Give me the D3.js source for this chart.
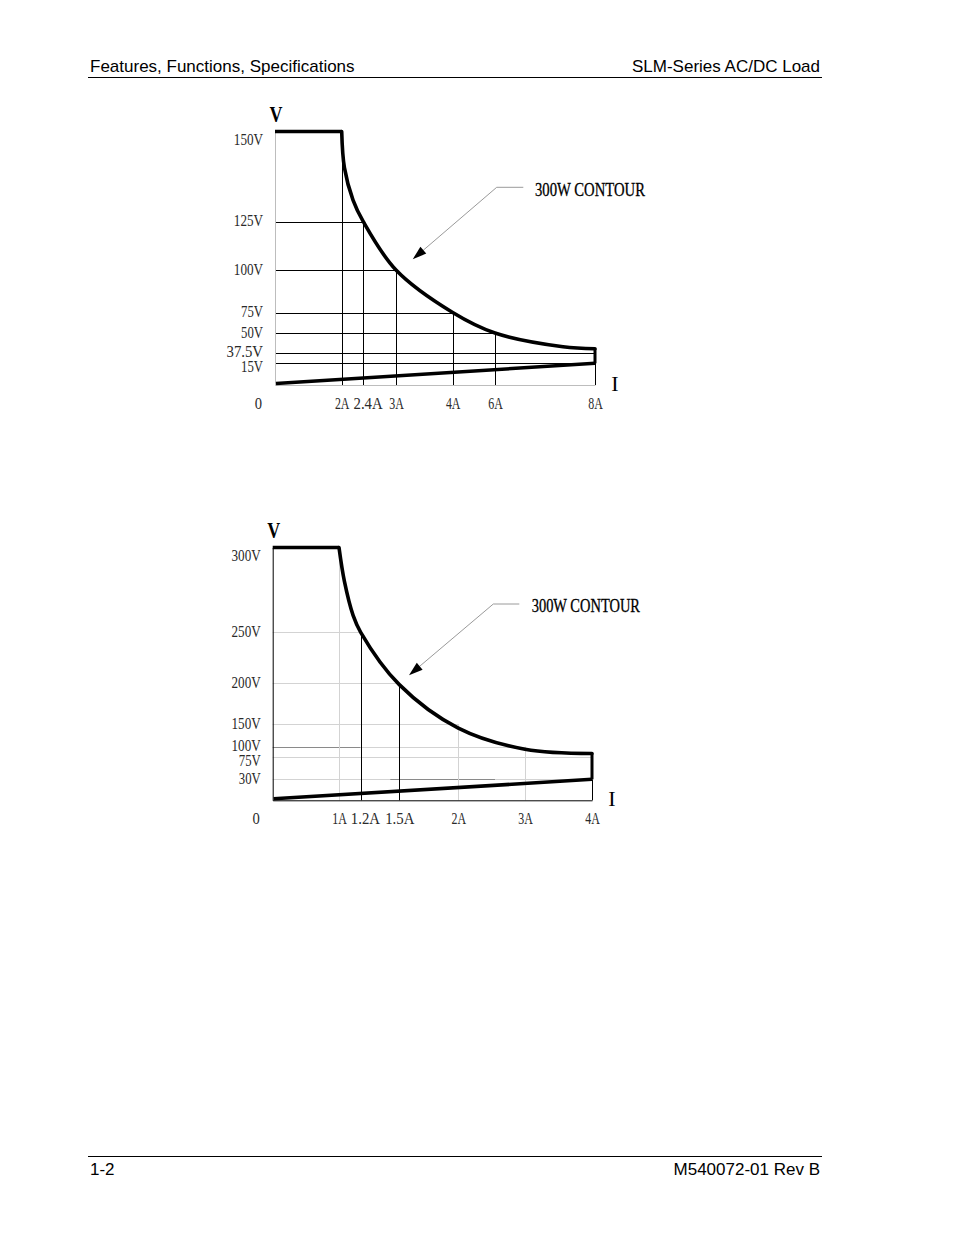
<!DOCTYPE html>
<html><head><meta charset="utf-8">
<script src="https://cdn.jsdelivr.net/npm/d3@7"></script>
<style>
html,body{margin:0;padding:0;background:#fff;}
svg{display:block;}
</style></head>
<body>
<svg id="page" width="954" height="1235"></svg>
<script>
// ---------- page text ----------
const headerLeft = "Features, Functions, Specifications";
const headerRight = "SLM-Series AC/DC Load";
const footerLeft = "1-2";
const footerRight = "M540072-01 Rev B";
const contourLabel = "300W CONTOUR";
const voltAxisName = "V";
const ampAxisName = "I";

// ---------- chart 1 (upper) data ----------
const c1Volts = [0, 15, 37.5, 50, 75, 100, 125, 150];
const c1VoltLabels = ["0", "15V", "37.5V", "50V", "75V", "100V", "125V", "150V"];
const c1Amps = [0, 2, 2.4, 3, 4, 6, 8];
const c1AmpLabels = ["0", "2A", "2.4A", "3A", "4A", "6A", "8A"];
const c1ContourI = [2, 2.05, 2.21, 2.4, 3, 4, 6, 7.36, 8];
const c1ContourV = [150, 140, 131, 125, 100, 75, 50, 41.3, 40];
const c1FloorI = [0, 8];
const c1FloorV = [0, 15];
const c1HGridV = [125, 100, 75, 50, 37.5, 15];
const c1HGridFrom = [0, 0, 0, 0, 0, 0];
const c1HGridTo = [2.4, 3, 4, 6, 8, 8];
const c1VGridI = [2, 2.4, 3, 4, 6, 8];
const c1VGridTo = [150, 125, 100, 75, 50, 40];

// ---------- chart 2 (lower) data ----------
const c2Volts = [0, 30, 75, 100, 150, 200, 250, 300];
const c2VoltLabels = ["0", "30V", "75V", "100V", "150V", "200V", "250V", "300V"];
const c2Amps = [0, 1, 1.2, 1.5, 2, 3, 4];
const c2AmpLabels = ["0", "1A", "1.2A", "1.5A", "2A", "3A", "4A"];
const c2ContourI = [1, 1.05, 1.13, 1.2, 1.5, 2, 3, 4];
const c2ContourV = [300, 280, 260, 250, 198, 141, 94, 84];
const c2FloorI = [0, 4];
const c2FloorV = [0, 30];
const c2HGridV = [250, 200, 150, 100, 100, 75, 30, 30];
const c2HGridFrom = [0, 0, 0, 0, 1.2, 0, 0, 1.43];
const c2HGridTo = [1.2, 1.5, 2, 1.2, 3, 4, 4, 2.55];
const c2VGridI = [1, 1.2, 1.5, 2, 3, 4];
const c2VGridTo = [300, 250, 200, 150, 100, 30];

// ---------- layout / style ----------
const TONE = {ink: "#000", mid: "#8a8a8a", faint: "#d3d3d3", axis: "#bdbdbd", lead: "#9a9a9a", label: "#2a2a2a"};
const SERIF = "'Liberation Serif', 'DejaVu Serif', serif";
const SANS = "'Liberation Sans', Arial, sans-serif";
const CHAR_W = 7.3;

const L1 = {
  xStops: [275, 341.7, 363.3, 396, 452.7, 495, 595],
  yStops: [385, 363.3, 352.7, 333, 312.5, 270, 221.7, 131.5],
  axisTone: "axis",
  hTone: ["ink", "ink", "ink", "ink", "ink", "ink"],
  vTone: ["ink", "ink", "ink", "ink", "ink", "ink"],
  note: {textX: 535, textY: 196, textLen: 110, startX: 523.3, elbowX: 496.7, lineY: 187.3, tipX: 412.7, tipY: 259.3}
};
const L2 = {
  xStops: [272.7, 339, 360.7, 399.3, 458.3, 525, 592],
  yStops: [800.3, 779.3, 757.3, 746.7, 724, 683, 632.3, 547.5],
  axisTone: "ink",
  hTone: ["faint", "faint", "faint", "mid", "faint", "faint", "faint", "mid"],
  vTone: ["faint", "ink", "ink", "faint", "faint", "ink"],
  note: {textX: 531.7, textY: 611.7, textLen: 108.3, startX: 519.3, elbowX: 493.3, lineY: 604, tipX: 409, tipY: 675.3}
};

const svg = d3.select("#page");
svg.append("rect").attr("width", 954).attr("height", 1235).attr("fill", "#fff");

// ---------- header / footer ----------
function pageText(x, y, s, anchor) {
  svg.append("text").attr("x", x).attr("y", y).attr("text-anchor", anchor)
    .attr("font-family", SANS).attr("font-size", 17).attr("fill", "#000").text(s);
}
pageText(90, 72, headerLeft, "start");
pageText(820, 72, headerRight, "end");
svg.append("line").attr("x1", 88).attr("x2", 822).attr("y1", 77.5).attr("y2", 77.5)
  .attr("stroke", "#000").attr("stroke-width", 1);
svg.append("line").attr("x1", 88).attr("x2", 822).attr("y1", 1156.5).attr("y2", 1156.5)
  .attr("stroke", "#000").attr("stroke-width", 1);
pageText(90, 1175, footerLeft, "start");
pageText(820, 1175, footerRight, "end");

// ---------- chart drawing ----------
function drawChart(d, L) {
  const g = svg.append("g");
  const x = d3.scaleLinear().domain(d.amps).range(L.xStops);
  const y = d3.scaleLinear().domain(d.volts).range(L.yStops);
  const vMax = d3.max(d.volts);
  const iMax = d3.max(d.amps);

  // horizontal grid segments
  g.selectAll(null)
    .data(d.hGridV.map((v, i) => ({v, from: d.hGridFrom[i], to: d.hGridTo[i], tone: L.hTone[i]})))
    .join("line")
    .attr("x1", p => x(p.from)).attr("x2", p => x(p.to))
    .attr("y1", p => Math.round(y(p.v)) + 0.5).attr("y2", p => Math.round(y(p.v)) + 0.5)
    .attr("stroke", p => TONE[p.tone]).attr("stroke-width", 1);

  // vertical grid segments
  g.selectAll(null)
    .data(d.vGridI.map((a, i) => ({a, to: d.vGridTo[i], tone: L.vTone[i]})))
    .join("line")
    .attr("x1", p => Math.round(x(p.a)) + 0.5).attr("x2", p => Math.round(x(p.a)) + 0.5)
    .attr("y1", y(0)).attr("y2", p => y(p.to))
    .attr("stroke", p => TONE[p.tone]).attr("stroke-width", 1);

  // axes
  const yAxis = d3.axisLeft(y).tickValues(d.volts.slice(1))
    .tickFormat(v => d.voltLabels[d.volts.indexOf(v)])
    .tickSize(0).tickSizeOuter(0).tickPadding(12);
  const ya = g.append("g").attr("transform", `translate(${x(0)},0)`).call(yAxis);

  const xAxis = d3.axisBottom(x).tickValues(d.amps.slice(1))
    .tickFormat(a => d.ampLabels[d.amps.indexOf(a)])
    .tickSize(0).tickSizeOuter(0).tickPadding(24);
  const xa = g.append("g").attr("transform", `translate(0,${y(0)})`).call(xAxis);

  [ya, xa].forEach(ax => {
    ax.attr("font-family", SERIF).attr("font-size", 16);
    ax.select(".domain").attr("stroke", TONE[L.axisTone]).attr("stroke-width", 1);
    ax.selectAll(".tick text").attr("fill", TONE.label)
      .attr("lengthAdjust", "spacingAndGlyphs")
      .attr("textLength", function() { return this.textContent.length * CHAR_W; });
  });

  // y labels: baseline slightly below the line; the top one hangs below it; keep them apart
  let prevBase = -Infinity;
  const yTicks = ya.selectAll(".tick").nodes()
    .map(n => ({n, v: d3.select(n).datum()}))
    .sort((a, b) => y(a.v) - y(b.v));
  yTicks.forEach(t => {
    let off = t.v === vMax ? 13 : 4;
    let base = y(t.v) + off;
    if (base < prevBase + 14.5) base = prevBase + 14.5;
    prevBase = base;
    d3.select(t.n).select("text").attr("dy", null).attr("y", base - y(t.v));
  });

  // x labels: baseline below the axis; push right if they collide
  let prevRight = -Infinity;
  xa.selectAll(".tick").each(function(a) {
    const t = d3.select(this).select("text");
    const w = t.text().length * CHAR_W;
    let left = x(a) - w / 2;
    if (left < prevRight + 4) left = prevRight + 4;
    prevRight = left + w;
    t.attr("dy", null).attr("y", 24).attr("x", left + w / 2 - x(a));
  });

  // origin label
  g.append("text").attr("x", x(0) - 13).attr("y", y(0) + 24).attr("text-anchor", "end")
    .attr("font-family", SERIF).attr("font-size", 16).attr("fill", TONE.label)
    .attr("textLength", d.voltLabels[0].length * CHAR_W).attr("lengthAdjust", "spacingAndGlyphs")
    .text(d.voltLabels[0]);

  // axis names
  g.append("text").attr("x", x(0) + 1).attr("y", y(vMax) - 10).attr("text-anchor", "middle")
    .attr("font-family", SERIF).attr("font-size", 23).attr("font-weight", "bold")
    .attr("textLength", 13).attr("lengthAdjust", "spacingAndGlyphs").text(voltAxisName);
  g.append("text").attr("x", x(iMax) + 20).attr("y", y(0) + 6).attr("text-anchor", "middle")
    .attr("font-family", SERIF).attr("font-size", 22).text(ampAxisName);

  // heavy outline: constant-voltage cap, power contour, end drop, floor line
  const heavy = g.append("g").attr("fill", "none").attr("stroke", "#000");
  heavy.append("line")
    .attr("x1", x(0)).attr("x2", x(d.contourI[0]))
    .attr("y1", y(vMax)).attr("y2", y(vMax))
    .attr("stroke-width", 3.6);
  const pts = d.contourI.map((a, i) => [a, d.contourV[i]]);
  heavy.append("path")
    .attr("d", d3.line().x(p => x(p[0])).y(p => y(p[1])).curve(d3.curveCatmullRom.alpha(0.5))(pts))
    .attr("stroke-width", 3.6).attr("stroke-linecap", "round");
  const lastI = d.contourI[d.contourI.length - 1];
  const lastV = d.contourV[d.contourV.length - 1];
  heavy.append("line")
    .attr("x1", x(lastI)).attr("x2", x(lastI))
    .attr("y1", y(lastV)).attr("y2", y(d.floorV[1]))
    .attr("stroke-width", 3);
  heavy.append("line")
    .attr("x1", x(d.floorI[0]) + 1).attr("x2", x(d.floorI[1]))
    .attr("y1", y(d.floorV[0]) - 1.5).attr("y2", y(d.floorV[1]))
    .attr("stroke-width", 3.6);

  // annotation with leader and arrowhead
  const n = L.note;
  const dx = n.tipX - n.elbowX, dy = n.tipY - n.lineY;
  const len = Math.hypot(dx, dy), ux = dx / len, uy = dy / len;
  const headL = 14, headW = 4.5;
  const bx = n.tipX - ux * headL, by = n.tipY - uy * headL;
  g.append("polyline")
    .attr("points", [[n.startX, n.lineY], [n.elbowX, n.lineY], [bx, by]].map(p => p.join(",")).join(" "))
    .attr("fill", "none").attr("stroke", TONE.lead).attr("stroke-width", 1);
  g.append("path")
    .attr("d", `M${n.tipX},${n.tipY}L${bx - uy * headW},${by + ux * headW}L${bx + uy * headW},${by - ux * headW}Z`)
    .attr("fill", "#000");
  g.append("text").attr("x", n.textX).attr("y", n.textY)
    .attr("font-family", SERIF).attr("font-size", 19).attr("fill", "#000")
    .attr("stroke", "#000").attr("stroke-width", 0.3)
    .attr("textLength", n.textLen).attr("lengthAdjust", "spacingAndGlyphs")
    .text(contourLabel);
}

drawChart({
  volts: c1Volts, voltLabels: c1VoltLabels, amps: c1Amps, ampLabels: c1AmpLabels,
  contourI: c1ContourI, contourV: c1ContourV, floorI: c1FloorI, floorV: c1FloorV,
  hGridV: c1HGridV, hGridFrom: c1HGridFrom, hGridTo: c1HGridTo,
  vGridI: c1VGridI, vGridTo: c1VGridTo
}, L1);

drawChart({
  volts: c2Volts, voltLabels: c2VoltLabels, amps: c2Amps, ampLabels: c2AmpLabels,
  contourI: c2ContourI, contourV: c2ContourV, floorI: c2FloorI, floorV: c2FloorV,
  hGridV: c2HGridV, hGridFrom: c2HGridFrom, hGridTo: c2HGridTo,
  vGridI: c2VGridI, vGridTo: c2VGridTo
}, L2);
</script>
</body></html>
